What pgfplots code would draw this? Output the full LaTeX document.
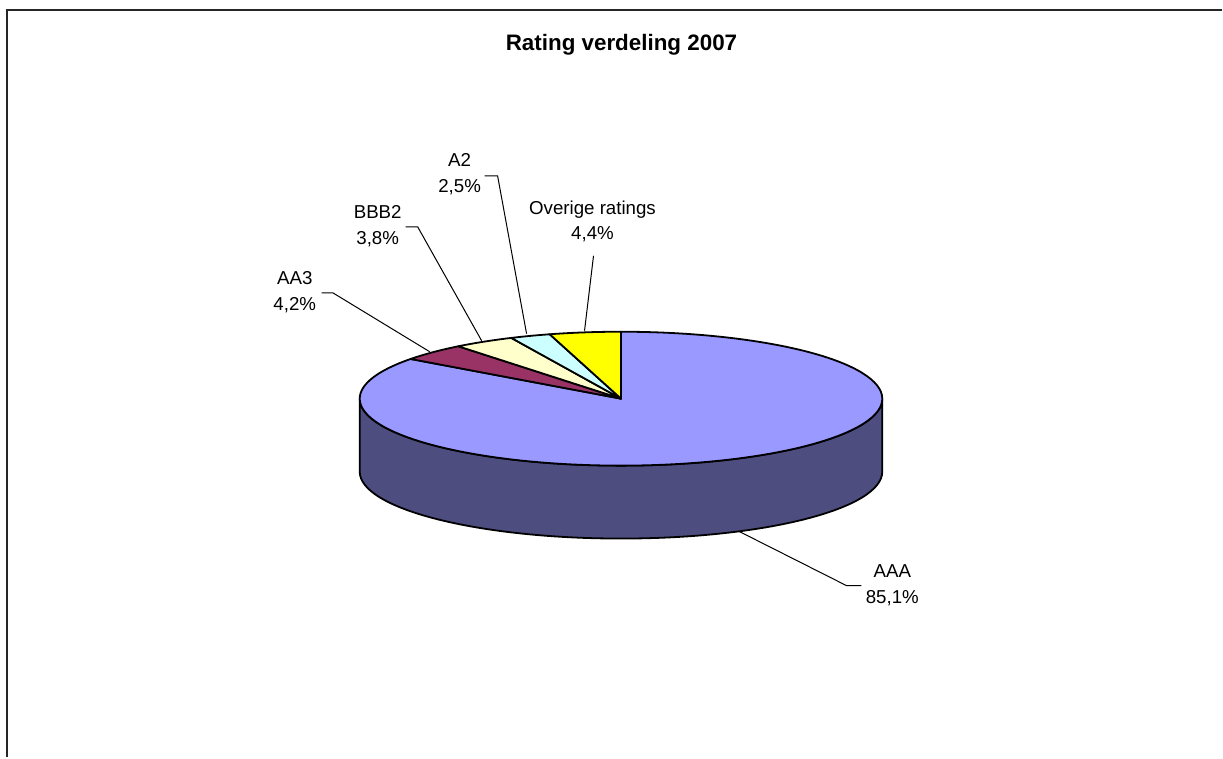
\documentclass[border=0pt]{standalone}
\usepackage{pgfplots}
\pgfplotsset{compat=1.18}
\usepackage{pgfplotstable}
\usepackage{fontspec}
\setmainfont{Liberation Sans}
\definecolor{cAAA}{HTML}{9999FF}
\definecolor{cAAAside}{HTML}{4D4D80}
\definecolor{cAA3}{HTML}{993366}
\definecolor{cBBB}{HTML}{FFFFCC}
\definecolor{cA2}{HTML}{CCFFFF}
\definecolor{cOv}{HTML}{FFFF00}

\pgfplotstableread{
rating value
AAA 85.1
AA3 4.2
BBB2 3.8
A2 2.5
Overige 4.4
}\ratings

\begin{document}
\begin{tikzpicture}
\pgfplotstablegetelem{0}{value}\of\ratings \edef\vAAA{\pgfplotsretval}
\pgfplotstablegetelem{1}{value}\of\ratings \edef\vAAthree{\pgfplotsretval}
\pgfplotstablegetelem{2}{value}\of\ratings \edef\vBBB{\pgfplotsretval}
\pgfplotstablegetelem{3}{value}\of\ratings \edef\vAtwo{\pgfplotsretval}
\pgfplotstablegetelem{4}{value}\of\ratings \edef\vOv{\pgfplotsretval}
\pgfmathsetmacro{\aOv}{90+3.6*\vOv}
\pgfmathsetmacro{\aA}{\aOv+3.6*\vAtwo}
\pgfmathsetmacro{\aB}{\aA+3.6*\vBBB}
\pgfmathsetmacro{\aC}{\aB+3.6*\vAAthree}
\pgfmathsetmacro{\aEnd}{\aC+3.6*\vAAA}
\begin{axis}[width=1223bp,height=758bp,scale only axis,
  xmin=0,xmax=1223,ymin=0,ymax=758,hide axis,clip=false]
\path (axis cs:0,0) rectangle (axis cs:1223,758);
% frame
\draw[black!85, line width=2bp] (axis cs:7,0) -- (axis cs:7,748) -- (axis cs:1223,748);
% side wall
\filldraw[fill=cAAAside, draw=black, line width=1.8bp, line join=round]
  (axis cs:621.5,359) ++(180:261.5bp and 67bp)
  arc[start angle=180, end angle=360, x radius=261.5bp, y radius=67bp]
  -- ++(0,-73bp)
  arc[start angle=360, end angle=180, x radius=261.5bp, y radius=67bp]
  -- cycle;
% top wedges
\filldraw[fill=cAAA, draw=black, line width=1.8bp, line join=round]
  (axis cs:621.5,359) -- ++(\aC:261.5bp and 67bp)
  arc[start angle=\aC, end angle=\aEnd, x radius=261.5bp, y radius=67bp] -- cycle;
\filldraw[fill=cAA3, draw=black, line width=1.8bp, line join=round]
  (axis cs:621.5,359) -- ++(\aB:261.5bp and 67bp)
  arc[start angle=\aB, end angle=\aC, x radius=261.5bp, y radius=67bp] -- cycle;
\filldraw[fill=cBBB, draw=black, line width=1.8bp, line join=round]
  (axis cs:621.5,359) -- ++(\aA:261.5bp and 67bp)
  arc[start angle=\aA, end angle=\aB, x radius=261.5bp, y radius=67bp] -- cycle;
\filldraw[fill=cA2, draw=black, line width=1.8bp, line join=round]
  (axis cs:621.5,359) -- ++(\aOv:261.5bp and 67bp)
  arc[start angle=\aOv, end angle=\aA, x radius=261.5bp, y radius=67bp] -- cycle;
\filldraw[fill=cOv, draw=black, line width=1.8bp, line join=round]
  (axis cs:621.5,359) -- ++(90:261.5bp and 67bp)
  arc[start angle=90, end angle=\aOv, x radius=261.5bp, y radius=67bp] -- cycle;
% leader lines
\draw[black, line width=1bp] (axis cs:485,582) -- (axis cs:498,582) -- (axis cs:527,424);
\draw[black, line width=1bp] (axis cs:406,531) -- (axis cs:418,531) -- (axis cs:482,417);
\draw[black, line width=1bp] (axis cs:322,465) -- (axis cs:333,465) -- (axis cs:430,406);
\draw[black, line width=1bp] (axis cs:594,502) -- (axis cs:585,427);
\draw[black, line width=1bp] (axis cs:740,226) -- (axis cs:847,172) -- (axis cs:862,172);
% labels
\tikzset{lab/.style={anchor=base, inner sep=0pt, font=\fontsize{18.7bp}{22bp}\selectfont}}
\node[anchor=base, inner sep=0pt, font=\fontsize{22.4bp}{26bp}\selectfont\bfseries] at (axis cs:622,707.3) {Rating verdeling 2007};
\node[lab] at (axis cs:460,591) {A2};
\node[lab] at (axis cs:460,565) {2,5\%};
\node[lab] at (axis cs:378,539) {BBB2};
\node[lab] at (axis cs:378,513) {3,8\%};
\node[lab] at (axis cs:295,473) {AA3};
\node[lab] at (axis cs:295,447) {4,2\%};
\node[lab] at (axis cs:593,543) {Overige ratings};
\node[lab] at (axis cs:593,518) {4,4\%};
\node[lab] at (axis cs:893,180) {AAA};
\node[lab] at (axis cs:893,154) {85,1\%};
\end{axis}
\end{tikzpicture}
\end{document}
